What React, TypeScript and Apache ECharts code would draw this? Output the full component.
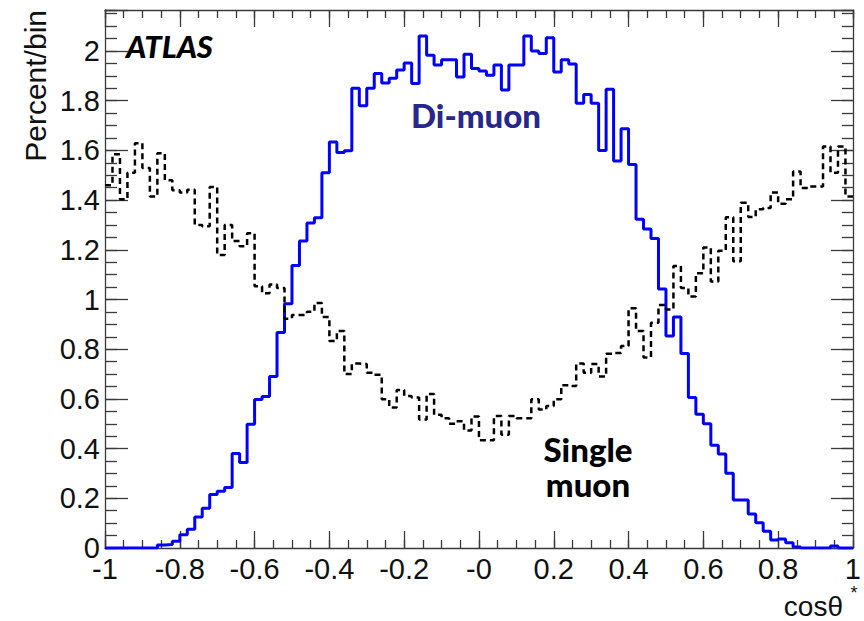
import React, { useEffect, useRef } from "react";
import * as echarts from "echarts";

// Histogram binning: 100 bins of width 0.02 on cos(theta*) in [-1, 1]
const X_MIN = -1;
const X_MAX = 1;
const BIN_WIDTH = 0.02;
const Y_MAX = 2.165;

// Di-muon distribution, percent per bin
const diMuon = [
  0, 0, 0, 0, 0, 0, 0, 0.012, 0.014, 0.027,
  0.053, 0.075, 0.125, 0.16, 0.215, 0.228, 0.243, 0.38, 0.344, 0.498,
  0.598, 0.61, 0.69, 0.867, 0.983, 1.137, 1.235, 1.308, 1.329, 1.51,
  1.634, 1.592, 1.599, 1.85, 1.78, 1.85, 1.909, 1.871, 1.89, 1.924,
  1.952, 1.869, 2.06, 1.983, 1.944, 1.965, 1.965, 1.895, 1.987, 1.93,
  1.92, 1.902, 1.944, 1.843, 1.944, 1.944, 2.06, 2.0, 1.99, 2.053,
  1.916, 1.965, 1.948, 1.79, 1.825, 1.79, 1.6, 1.846, 1.557, 1.687,
  1.543, 1.323, 1.284, 1.245, 1.042, 0.853, 0.93, 0.783, 0.606, 0.538,
  0.5, 0.413, 0.378, 0.301, 0.193, 0.193, 0.137, 0.102, 0.067, 0.032,
  0.036, 0.021, 0.004, 0, 0, 0, 0, 0.008, 0, 0,
];

// Single-muon distribution, percent per bin
const singleMuon = [
  1.46, 1.585, 1.403, 1.51, 1.629, 1.529, 1.414, 1.589, 1.48, 1.44,
  1.431, 1.442, 1.3, 1.295, 1.453, 1.179, 1.3, 1.235, 1.214, 1.267,
  1.053, 1.025, 1.06, 1.046, 0.923, 0.938, 0.938, 0.951, 0.986, 0.93,
  0.833, 0.873, 0.7, 0.742, 0.74, 0.705, 0.697, 0.599, 0.565, 0.636,
  0.612, 0.606, 0.517, 0.62, 0.536, 0.522, 0.5, 0.51, 0.473, 0.529,
  0.434, 0.434, 0.531, 0.456, 0.531, 0.522, 0.522, 0.599, 0.557, 0.571,
  0.599, 0.655, 0.652, 0.742, 0.705, 0.74, 0.69, 0.782, 0.785, 0.813,
  0.965, 0.873, 0.767, 0.906, 0.978, 0.96, 1.135, 1.046, 1.012, 1.106,
  1.209, 1.072, 1.196, 1.331, 1.154, 1.389, 1.332, 1.363, 1.368, 1.431,
  1.385, 1.403, 1.515, 1.449, 1.455, 1.455, 1.616, 1.51, 1.616, 1.414,
];

const xTickLabels = ["-1", "-0.8", "-0.6", "-0.4", "-0.2", "-0", "0.2", "0.4", "0.6", "0.8", "1"];
const yTickLabels = ["0", "0.2", "0.4", "0.6", "0.8", "1", "1.2", "1.4", "1.6", "1.8", "2"];

const FRAME = "#3a3a3a";
const TICK_FONT = "'Liberation Sans', Arial, sans-serif";
const LABEL_FONT = "Lato, 'Open Sans', sans-serif";

// Left bin edges plus the closing edge, drawn as a step line
function toSteps(values: number[]): [number, number][] {
  const pts: [number, number][] = values.map((v, i) => [X_MIN + i * BIN_WIDTH, v]);
  pts.push([X_MAX, values[values.length - 1]]);
  return pts;
}

function xAxisDef(position: "top" | "bottom", interval: number, len: number, labels: boolean, line: boolean) {
  return {
    type: "value",
    position,
    min: X_MIN,
    max: X_MAX,
    interval,
    axisLine: { show: line, onZero: false, lineStyle: { color: FRAME, width: 1.3 } },
    axisTick: { show: true, inside: true, length: len, lineStyle: { color: FRAME, width: 1.3 } },
    axisLabel: labels
      ? {
          show: true,
          margin: 6,
          fontSize: 29,
          fontFamily: TICK_FONT,
          color: "#111",
          formatter: (v: number) => xTickLabels[Math.round((v - X_MIN) / 0.2)] ?? "",
        }
      : { show: false },
    splitLine: { show: false },
  };
}

function yAxisDef(position: "left" | "right", interval: number, len: number, labels: boolean, line: boolean) {
  return {
    type: "value",
    position,
    min: 0,
    max: Y_MAX,
    interval,
    axisLine: { show: line, onZero: false, lineStyle: { color: FRAME, width: 1.3 } },
    axisTick: { show: true, inside: true, length: len, lineStyle: { color: FRAME, width: 1.3 } },
    axisLabel: labels
      ? {
          show: true,
          margin: 5,
          fontSize: 29,
          fontFamily: TICK_FONT,
          color: "#111",
          formatter: (v: number) => {
            const i = Math.round(v / 0.2);
            return Math.abs(v - i * 0.2) < 1e-6 ? yTickLabels[i] ?? "" : "";
          },
        }
      : { show: false },
    splitLine: { show: false },
  };
}

export default function App() {
  const ref = useRef<HTMLDivElement>(null);

  useEffect(() => {
    if (!ref.current) return;
    const chart = echarts.init(ref.current, null, { renderer: "svg" });
    chart.setOption({
      animation: false,
      backgroundColor: "#ffffff",
      grid: { left: 105, right: 6, top: 10, bottom: 73, containLabel: false },
      xAxis: [
        xAxisDef("bottom", 0.2, 17, true, true),
        xAxisDef("bottom", 0.05, 8, false, false),
        xAxisDef("top", 0.2, 17, false, true),
        xAxisDef("top", 0.05, 8, false, false),
      ],
      yAxis: [
        yAxisDef("left", 0.2, 23, true, true),
        yAxisDef("left", 0.05, 12, false, false),
        yAxisDef("right", 0.2, 22, false, true),
        yAxisDef("right", 0.05, 11, false, false),
      ],
      series: [
        {
          name: "Di-muon",
          type: "line",
          step: "end",
          xAxisIndex: 0,
          yAxisIndex: 0,
          showSymbol: false,
          data: toSteps(diMuon),
          lineStyle: { color: "#0000ff", width: 3 },
          z: 3,
        },
        {
          name: "Single muon",
          type: "line",
          step: "end",
          xAxisIndex: 0,
          yAxisIndex: 0,
          showSymbol: false,
          data: toSteps(singleMuon),
          lineStyle: { color: "#000000", width: 2.5, type: [6, 4] },
          z: 4,
        },
      ],
      graphic: [
        {
          type: "text",
          x: 126,
          y: 46,
          style: {
            text: "ATLAS",
            font: `italic 900 31px ${LABEL_FONT}`,
            fill: "#000",
            align: "left",
            verticalAlign: "middle",
          },
        },
        {
          type: "text",
          x: 476,
          y: 115,
          style: {
            text: "Di-muon",
            font: `900 33px ${LABEL_FONT}`,
            fill: "#28288c",
            align: "center",
            verticalAlign: "middle",
          },
        },
        {
          type: "text",
          x: 588,
          y: 449,
          style: {
            text: "Single",
            font: `900 33px ${LABEL_FONT}`,
            lineHeight: 34,
            fill: "#000",
            align: "center",
            verticalAlign: "middle",
          },
        },
        {
          type: "text",
          x: 588,
          y: 484,
          style: {
            text: "muon",
            font: `900 33px ${LABEL_FONT}`,
            lineHeight: 34,
            fill: "#000",
            align: "center",
            verticalAlign: "middle",
          },
        },
        {
          type: "text",
          x: 35,
          y: 10,
          rotation: Math.PI / 2,
          style: {
            text: "Percent/bin",
            font: `30px ${TICK_FONT}`,
            fill: "#111",
            align: "right",
            verticalAlign: "middle",
          },
        },
        {
          type: "text",
          x: 843,
          y: 592,
          style: {
            text: "cosθ",
            font: `28px ${TICK_FONT}`,
            lineHeight: 28,
            fill: "#111",
            align: "right",
            verticalAlign: "top",
          },
        },
        {
          type: "text",
          x: 854,
          y: 584,
          style: {
            text: "*",
            font: `18px ${TICK_FONT}`,
            fill: "#111",
            align: "center",
            verticalAlign: "top",
          },
        },
      ],
    });
    return () => chart.dispose();
  }, []);

  return <div ref={ref} style={{ width: 864, height: 621, position: "absolute", left: 0, top: 0 }} />;
}
